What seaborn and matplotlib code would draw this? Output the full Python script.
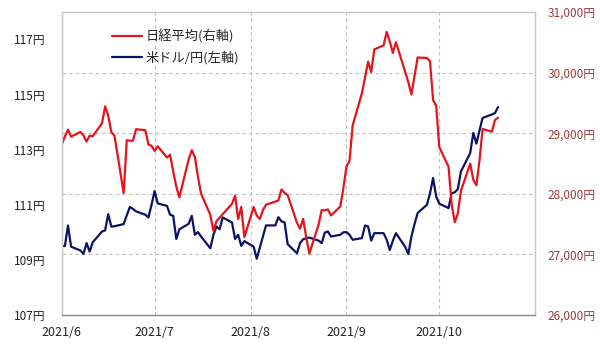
import matplotlib
matplotlib.use('Agg')
import matplotlib.pyplot as plt
import numpy as np
import pandas as pd
import seaborn as sns

# Nikkei 225 closes (right axis), Tokyo trading days
nikkei_dates = [
    '2021-06-01', '2021-06-02', '2021-06-03', '2021-06-04', '2021-06-07', '2021-06-08',
    '2021-06-09', '2021-06-10', '2021-06-11', '2021-06-14', '2021-06-15', '2021-06-16',
    '2021-06-17', '2021-06-18', '2021-06-21', '2021-06-22', '2021-06-23', '2021-06-24',
    '2021-06-25', '2021-06-28', '2021-06-29', '2021-06-30',
    '2021-07-01', '2021-07-02', '2021-07-05', '2021-07-06', '2021-07-07', '2021-07-08',
    '2021-07-09', '2021-07-12', '2021-07-13', '2021-07-14', '2021-07-15', '2021-07-16',
    '2021-07-19', '2021-07-20', '2021-07-21', '2021-07-26', '2021-07-27', '2021-07-28',
    '2021-07-29', '2021-07-30',
    '2021-08-02', '2021-08-03', '2021-08-04', '2021-08-05', '2021-08-06', '2021-08-10',
    '2021-08-11', '2021-08-12', '2021-08-13', '2021-08-16', '2021-08-17', '2021-08-18',
    '2021-08-19', '2021-08-20', '2021-08-23', '2021-08-24', '2021-08-25', '2021-08-26',
    '2021-08-27', '2021-08-30', '2021-08-31',
    '2021-09-01', '2021-09-02', '2021-09-03', '2021-09-06', '2021-09-07', '2021-09-08',
    '2021-09-09', '2021-09-10', '2021-09-13', '2021-09-14', '2021-09-15', '2021-09-16',
    '2021-09-17', '2021-09-21', '2021-09-22', '2021-09-24', '2021-09-27', '2021-09-28',
    '2021-09-29', '2021-09-30',
    '2021-10-01', '2021-10-04', '2021-10-05', '2021-10-06', '2021-10-07', '2021-10-08',
    '2021-10-11', '2021-10-12', '2021-10-13', '2021-10-14', '2021-10-15', '2021-10-18',
    '2021-10-19', '2021-10-20',
]
nikkei = [
    28814, 28946, 29058, 28942, 29019, 28964, 28861, 28959, 28949, 29162, 29441, 29291,
    29018, 28964, 28011, 28884, 28875, 28875, 29066, 29048, 28813, 28792,
    28707, 28783, 28598, 28643, 28367, 28118, 27940, 28569, 28718, 28608, 28279, 28003,
    27653, 27388, 27548, 27833, 27970, 27582, 27782, 27284,
    27781, 27642, 27584, 27728, 27820, 27888, 28071, 28015, 27977, 27523, 27424, 27586,
    27281, 27013, 27494, 27732, 27725, 27742, 27641, 27789, 28090,
    28451, 28544, 29128, 29660, 29916, 30181, 30008, 30382, 30447, 30670, 30512, 30323,
    30500, 29840, 29639, 30249, 30240, 30184, 29544, 29453,
    28771, 28445, 27822, 27529, 27678, 28049, 28498, 28231, 28140, 28551, 29069, 29025,
    29216, 29256,
]

# USD/JPY (left axis), weekdays
usd_start, usd_end = '2021-06-01', '2021-10-20'
usdjpy = [
    109.51, 109.50, 110.25, 109.48, 109.34, 109.22, 109.61, 109.30, 109.64, 110.03,
    110.07, 110.66, 110.21, 110.22, 110.30, 110.62, 110.92, 110.85, 110.76, 110.64,
    110.54, 111.00,
    111.50, 111.05, 110.96, 110.64, 110.60, 109.76, 110.11, 110.31, 110.60, 109.91,
    110.01, 109.85, 109.42, 109.91, 110.21, 110.11, 110.54, 110.36, 109.76, 109.91,
    109.51, 109.68,
    109.48, 109.04, 109.44, 109.85, 110.25, 110.25, 110.55, 110.40, 110.36, 109.57,
    109.24, 109.61, 109.75, 109.78, 109.81, 109.70, 109.61, 109.99, 110.03, 109.85,
    109.91, 110.00,
    110.01, 109.91, 109.73, 109.79, 110.25, 110.21, 109.70, 109.97, 109.97, 109.73,
    109.36, 109.70, 109.97, 109.47, 109.21, 109.85, 110.30, 110.70, 111.00, 111.42,
    111.97, 111.30,
    111.04, 110.88, 111.42, 111.45, 111.57, 112.21, 112.88, 113.61, 113.22, 113.70,
    114.15, 114.28, 114.33, 114.55,
]

month_ticks = ['2021-06-01', '2021-07-01', '2021-08-01', '2021-09-01', '2021-10-01']
month_labels = ['2021/6', '2021/7', '2021/8', '2021/9', '2021/10']
left_ticks = [107, 109, 111, 113, 115, 117]
right_ticks = [26000, 27000, 28000, 29000, 30000, 31000]

label_nikkei = '日経平均(右軸)'
label_usd = '米ドル/円(左軸)'

RED = '#E5141C'
NAVY = '#0B1464'
GRID = '#BFBFBF'
RIGHT_TXT = '#9A3B3B'

df_n = pd.DataFrame({'date': pd.to_datetime(nikkei_dates), 'value': nikkei})
df_u = pd.DataFrame({'date': pd.bdate_range(usd_start, usd_end), 'value': usdjpy})

sns.set_style('white')
plt.rcParams['font.family'] = ['Noto Sans CJK JP', 'DejaVu Sans']

fig = plt.figure(figsize=(6.0, 3.51), dpi=100)
ax = fig.add_axes([0.103, 0.1026, 0.789, 0.8634])
ax2 = ax.twinx()

sns.lineplot(data=df_u, x='date', y='value', ax=ax, color=NAVY, linewidth=1.6, label=label_usd, legend=False)
sns.lineplot(data=df_n, x='date', y='value', ax=ax2, color=RED, linewidth=1.6, label=label_nikkei, legend=False)

ax.set_xlim(pd.Timestamp('2021-06-01'), pd.Timestamp('2021-11-01'))
ax.set_ylim(107, 118)
ax2.set_ylim(26000, 31000)

ax.set_xticks(pd.to_datetime(month_ticks))
ax.set_xticklabels(month_labels, fontsize=9, color='#222222')
ax.set_yticks(left_ticks)
ax.set_yticklabels([f'{v}円' for v in left_ticks], fontsize=8.5, color='#222222')
ax2.set_yticks(right_ticks)
ax2.set_yticklabels([f'{v:,}円' for v in right_ticks], fontsize=8.5, color=RIGHT_TXT)

ax.set_xlabel('')
ax.set_ylabel('')
ax2.set_ylabel('')

# gridlines: vertical at month starts, horizontal at right-axis ticks (drawn under the lines)
ax.grid(axis='x', color=GRID, linestyle=(0, (3, 3)), linewidth=0.8)
ax.set_axisbelow(True)
lo2, hi2 = ax2.get_ylim()
lo, hi = ax.get_ylim()
for v in right_ticks[1:-1]:
    ax.axhline(lo + (v - lo2) / (hi2 - lo2) * (hi - lo), color=GRID,
               linestyle=(0, (3, 3)), linewidth=0.8, zorder=0.5)

for a in (ax, ax2):
    for s in a.spines.values():
        s.set_color('#C8C8C8')
        s.set_linewidth(0.9)
    a.spines['bottom'].set_color('#8C8C8C')

ax.tick_params(axis='x', length=4, color='#8C8C8C', pad=4, direction='out')
ax.tick_params(axis='y', length=0, pad=12)
ax2.tick_params(axis='y', length=0, pad=9)

h1, l1 = ax2.get_legend_handles_labels()
h2, l2 = ax.get_legend_handles_labels()
ax2.legend(h1 + h2, l1 + l2, loc='center left', bbox_to_anchor=(0.08, 0.885),
           frameon=False, fontsize=9.5, handlelength=2.3, handletextpad=0.3,
           labelspacing=0.55)

fig.savefig('out.png', dpi=100)
plt.close(fig)
